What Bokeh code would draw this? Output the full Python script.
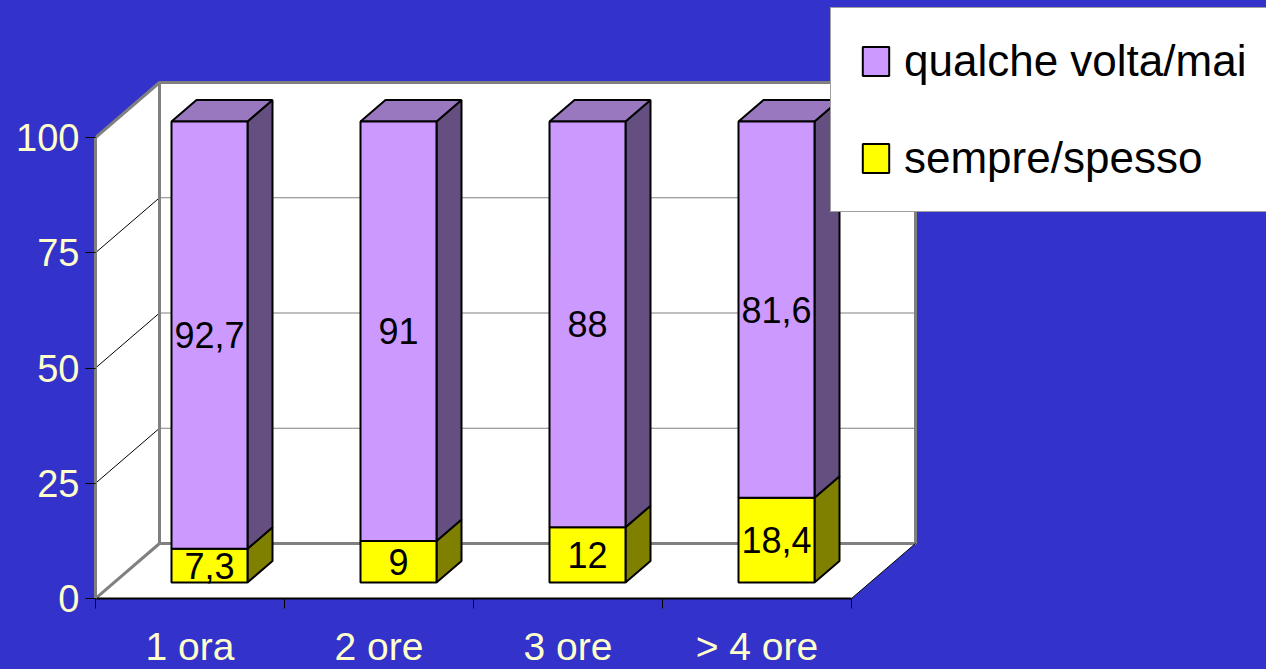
import numpy as np
from bokeh.plotting import figure
from bokeh.models import Range1d, FixedTicker, Legend, LegendItem
from bokeh.core.properties import value
from bokeh.embed import file_html
from bokeh.resources import INLINE

# ---- data -----------------------------------------------------------
categories = ["1 ora", "2 ore", "3 ore", "> 4 ore"]
sempre_spesso = [7.3, 9, 12, 18.4]
qualche_volta = [92.7, 91, 88, 81.6]
y_ticks = [0, 25, 50, 75, 100]
series_names = ["qualche volta/mai", "sempre/spesso"]

# ---- style / geometry -------------------------------------------------
BG = "#3333CC"
FONT = "Liberation Sans"
CREAM = "#FFFFCC"
GREY = "#808080"
PURPLE, PURPLE_SIDE, PURPLE_TOP = "#CC99FF", "#654F80", "#9A78C0"
YELLOW, YELLOW_SIDE = "#FFFF00", "#808000"

W, H = 1266, 669
LEFT, BOTTOM = 95, 71
FRAME_W, FRAME_H = W - LEFT, H - BOTTOM
PX_X = 189.0          # pixels per category slot
PX_Y = 4.61           # pixels per percentage point

n = len(categories)
y_max = y_ticks[-1]

# depth offsets of the 3-D box, expressed in data units
WALL_DX, WALL_DY = 64 / PX_X, 55 / PX_Y
BAR_DX, BAR_DY = 25 / PX_X, 21.5 / PX_Y
FRONT_DX, FRONT_DY = 19.5 / PX_X, 16 / PX_Y
BAR_W = 76 / PX_X

p = figure(frame_width=FRAME_W, frame_height=FRAME_H,
           min_border_left=LEFT, min_border_bottom=BOTTOM,
           min_border_top=0, min_border_right=0,
           x_range=Range1d(0, FRAME_W / PX_X), y_range=Range1d(0, FRAME_H / PX_Y),
           output_backend="svg", toolbar_location=None)
p.background_fill_color = BG
p.border_fill_color = BG
p.styles = {"background-color": BG}
p.outline_line_color = None
p.xgrid.visible = False
p.ygrid.visible = False

# ---- walls and floor --------------------------------------------------
p.patch([0, WALL_DX, WALL_DX, 0], [0, WALL_DY, y_max + WALL_DY, y_max],
        fill_color="white", line_color=None)
p.quad(left=[WALL_DX], right=[n + WALL_DX], bottom=[WALL_DY], top=[y_max + WALL_DY],
       fill_color="white", line_color=None)
p.patch([0, n, n + WALL_DX, WALL_DX], [0, 0, WALL_DY, WALL_DY],
        fill_color="white", line_color=None)

grid_vals = [v for v in y_ticks if 0 < v < y_max]
# grid on the back wall
p.multi_line([[WALL_DX, n + WALL_DX] for v in grid_vals],
             [[v + WALL_DY, v + WALL_DY] for v in grid_vals],
             line_color=GREY, line_width=1)
# grid on the side wall
p.multi_line([[0, WALL_DX] for v in grid_vals],
             [[v, v + WALL_DY] for v in grid_vals],
             line_color="black", line_width=1)

# wall edges
p.multi_line(
    [[0, WALL_DX], [0, WALL_DX],
     [WALL_DX, WALL_DX, n + WALL_DX, n + WALL_DX, WALL_DX]],
    [[y_max, y_max + WALL_DY], [0, WALL_DY],
     [WALL_DY, y_max + WALL_DY, y_max + WALL_DY, WALL_DY, WALL_DY]],
    line_color=GREY, line_width=3)
p.line([n, n + WALL_DX], [0, WALL_DY], line_color="black", line_width=1)

# ---- bars -----------------------------------------------------------
xc = np.arange(n) + 0.5 + FRONT_DX
xl, xr = xc - BAR_W / 2, xc + BAR_W / 2
ss = np.array(sempre_spesso, dtype=float)
qv = np.array(qualche_volta, dtype=float)
seg_s = (FRONT_DY + 0 * ss, FRONT_DY + ss)
seg_q = (FRONT_DY + ss, FRONT_DY + ss + qv)


def side_faces(bottom, top):
    xs = [[r, r + BAR_DX, r + BAR_DX, r] for r in xr]
    ys = [[b, b + BAR_DY, t + BAR_DY, t] for b, t in zip(bottom, top)]
    return xs, ys


xs, ys = side_faces(*seg_s)
p.patches(xs, ys, fill_color=YELLOW_SIDE, line_color="black", line_width=2)
r_s = p.quad(left=xl, right=xr, bottom=seg_s[0], top=seg_s[1],
             fill_color=YELLOW, line_color="black", line_width=2)

xs, ys = side_faces(*seg_q)
p.patches(xs, ys, fill_color=PURPLE_SIDE, line_color="black", line_width=2)
p.patches([[l, r, r + BAR_DX, l + BAR_DX] for l, r in zip(xl, xr)],
          [[t, t, t + BAR_DY, t + BAR_DY] for t in seg_q[1]],
          fill_color=PURPLE_TOP, line_color="black", line_width=2)
r_q = p.quad(left=xl, right=xr, bottom=seg_q[0], top=seg_q[1],
             fill_color=PURPLE, line_color="black", line_width=2)


def fmt(v):
    return f"{v:g}".replace(".", ",")


for (b, t), vals in ((seg_s, ss), (seg_q, qv)):
    p.text(x=xc, y=(b + t) / 2, text=[fmt(v) for v in vals],
           text_align="center", text_baseline="middle",
           text_font=value(FONT), text_font_size="36px", text_color="black")

# ---- axes -----------------------------------------------------------
ya = p.yaxis[0]
ya.ticker = FixedTicker(ticks=y_ticks)
ya.bounds = (0, y_max)
ya.axis_line_color = GREY
ya.axis_line_width = 3
ya.major_tick_line_color = "black"
ya.major_tick_out = 10
ya.major_tick_in = 0
ya.minor_tick_line_color = None
ya.major_label_text_font = FONT
ya.major_label_text_font_size = "38px"
ya.major_label_text_color = CREAM
ya.major_label_standoff = 6

xa = p.xaxis[0]
centers = [i + 0.5 for i in range(n)]
xa.ticker = FixedTicker(ticks=centers, minor_ticks=list(range(n + 1)))
xa.major_label_overrides = {c: lab for c, lab in zip(centers, categories)}
xa.bounds = (0, n)
xa.axis_line_color = "black"
xa.axis_line_width = 2
xa.major_tick_line_color = None
xa.major_tick_out = 0
xa.major_tick_in = 0
xa.minor_tick_line_color = "black"
xa.minor_tick_line_width = 1
xa.minor_tick_out = 10
xa.minor_tick_in = 0
xa.major_label_text_font = FONT
xa.major_label_text_font_size = "39px"
xa.major_label_text_color = CREAM
xa.major_label_standoff = 16

# ---- legend ---------------------------------------------------------
legend = Legend(
    items=[LegendItem(label=series_names[0], renderers=[r_q]),
           LegendItem(label=series_names[1], renderers=[r_s])],
    location=(830 - LEFT, FRAME_H - 212),
    orientation="vertical",
    padding=28, spacing=47, margin=0,
    glyph_width=33, glyph_height=36, label_standoff=12, label_height=50,
    label_text_font=FONT, label_text_font_size="44px", label_text_color="black",
    border_line_color="#404040", border_line_width=1,
    background_fill_color="white", background_fill_alpha=1.0)
p.add_layout(legend)

open("out.html", "w").write(file_html(p, INLINE))
